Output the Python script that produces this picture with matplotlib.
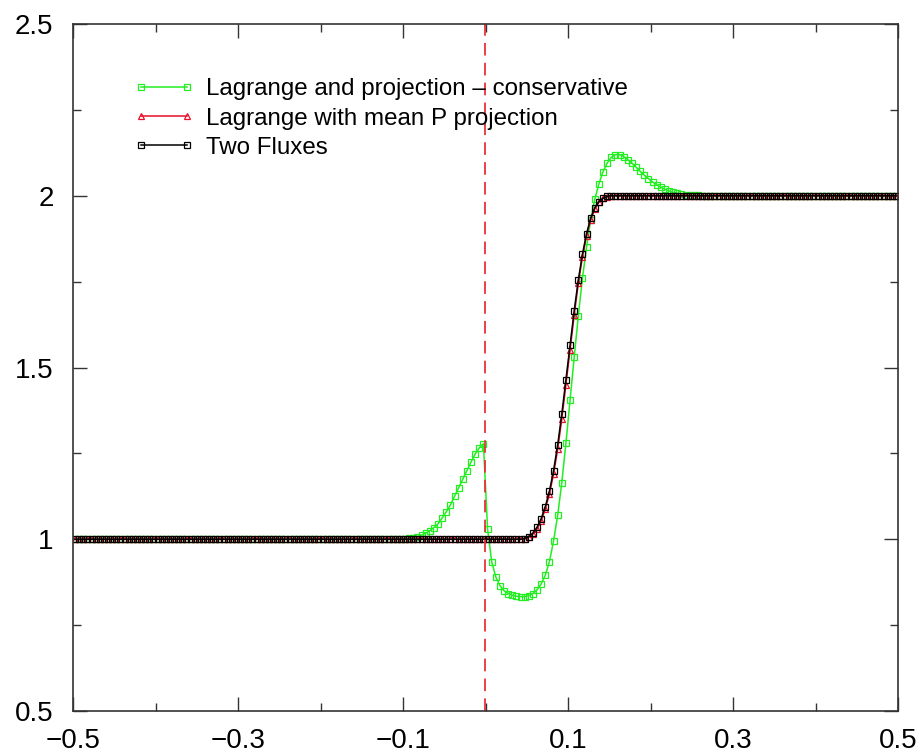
import numpy as np
import matplotlib
matplotlib.use("Agg")
import matplotlib.pyplot as plt
from matplotlib.ticker import MultipleLocator

plt.rcParams['font.family'] = ['Liberation Sans', 'DejaVu Sans']

# cell centres on [-0.5, 0.5], 200 cells
n_cells = 200
dx = 0.005
x = -0.5 + dx / 2 + dx * np.arange(n_cells)

# Lagrange and projection - conservative (cells 79..152, rest is 1 on the left, 2 on the right)
green_mid = [1.000, 1.001, 1.003, 1.005, 1.008, 1.012, 1.018, 1.025, 1.034, 1.045,
             1.062, 1.080, 1.100, 1.125, 1.150, 1.175, 1.200, 1.225, 1.248, 1.266,
             1.278, 1.030, 0.935, 0.890, 0.865, 0.850, 0.842, 0.837, 0.834, 0.833,
             0.833, 0.836, 0.842, 0.853, 0.870, 0.895, 0.935, 0.995, 1.070, 1.165,
             1.280, 1.405, 1.530, 1.650, 1.760, 1.850, 1.930, 1.990, 2.035, 2.070,
             2.095, 2.112, 2.120, 2.120, 2.114, 2.105, 2.095, 2.083, 2.071, 2.060,
             2.050, 2.040, 2.032, 2.025, 2.019, 2.014, 2.010, 2.007, 2.005, 2.003,
             2.002, 2.001, 2.001, 2.000]
green_start = 79

# Lagrange with mean P projection (cells 109..130)
red_mid = [1.001, 1.006, 1.015, 1.030, 1.054, 1.088, 1.132, 1.190, 1.262, 1.350,
           1.450, 1.552, 1.652, 1.745, 1.822, 1.884, 1.930, 1.962, 1.981, 1.992,
           1.997, 2.000]
red_start = 109

# Two Fluxes (cells 109..130)
black_mid = [1.002, 1.008, 1.018, 1.035, 1.060, 1.095, 1.140, 1.200, 1.275, 1.365,
             1.465, 1.565, 1.665, 1.755, 1.830, 1.890, 1.935, 1.965, 1.983, 1.993,
             1.998, 2.000]
black_start = 109


def full_profile(mid, start):
    left = [1.0] * start
    right = [2.0] * (n_cells - start - len(mid))
    return np.array(left + mid + right)


y_green = full_profile(green_mid, green_start)
y_red = full_profile(red_mid, red_start)
y_black = full_profile(black_mid, black_start)

fig = plt.figure(figsize=(9.2, 7.54), dpi=100)
ax = fig.add_axes([73 / 920, 1 - 711 / 754, 825 / 920, 687 / 754])

ax.plot(x, y_green, color='#22ee22', lw=1.1, marker='s', ms=3.9, mfc='none',
        mec='#22ee22', mew=0.9, label='Lagrange and projection \u2013 conservative')
ax.plot(x, y_red, color='#e8102a', lw=1.1, marker='^', ms=3.9, mfc='none',
        mec='#e8102a', mew=0.9, label='Lagrange with mean P projection')
ax.plot(x, y_black, color='black', lw=1.1, marker='s', ms=3.9, mfc='none',
        mec='black', mew=0.9, label='Two Fluxes')
ax.axvline(0.0, color='#e8303a', lw=1.3, ls=(0, (7, 4)))

ax.set_xlim(-0.5, 0.5)
ax.set_ylim(0.5, 2.5)
ax.set_xticks([-0.5, -0.3, -0.1, 0.1, 0.3, 0.5])
ax.set_xticklabels(['\u22120.5', '\u22120.3', '\u22120.1', '0.1', '0.3', '0.5'])
ax.xaxis.set_minor_locator(MultipleLocator(0.1))
ax.set_yticks([0.5, 1.0, 1.5, 2.0, 2.5])
ax.set_yticklabels(['0.5', '1', '1.5', '2', '2.5'])
ax.yaxis.set_minor_locator(MultipleLocator(0.25))
ax.tick_params(which='both', direction='in', top=True, right=True, width=1.0,
               labelsize=20, color='#333333')
ax.tick_params(which='major', length=10, pad=12)
ax.tick_params(which='minor', length=6)
ax.tick_params(axis='y', which='major', pad=14)
for sp in ax.spines.values():
    sp.set_color('#333333')
    sp.set_linewidth(1.2)

leg = ax.legend(loc='upper left', bbox_to_anchor=(0.062, 0.935), frameon=False,
                fontsize=17.4, numpoints=2, handlelength=2.5, handletextpad=0.5,
                labelspacing=0.3, borderaxespad=0)

fig.savefig('out.png', dpi=100)
